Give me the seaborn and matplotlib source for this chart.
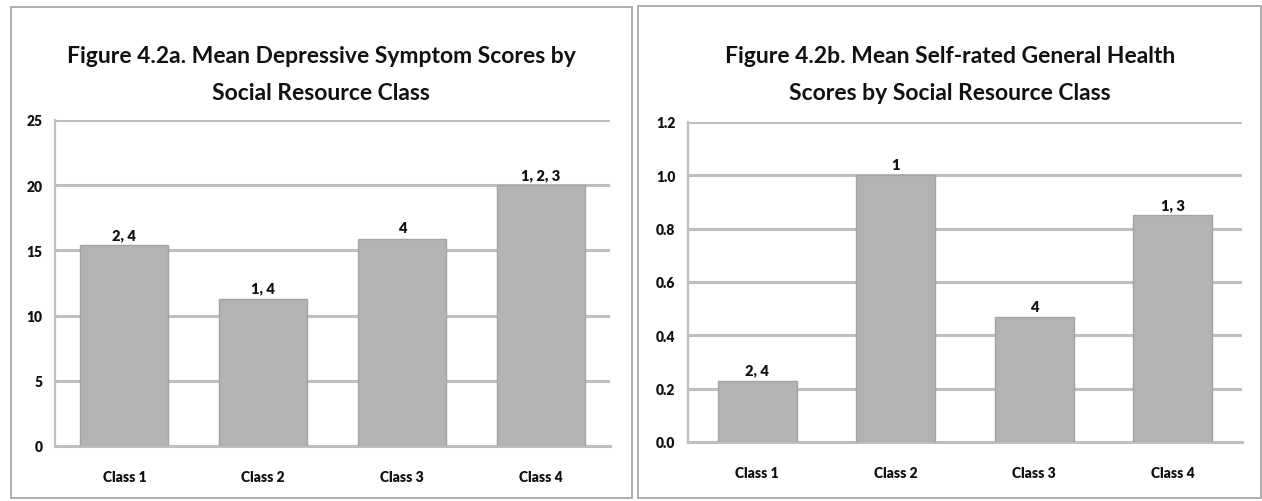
import matplotlib
matplotlib.use("Agg")
import matplotlib.pyplot as plt
from matplotlib.patches import Rectangle
import seaborn as sns

# Data
classes = ["Class 1", "Class 2", "Class 3", "Class 4"]
depressive_means = [15.4, 11.3, 15.9, 20.0]
depressive_sig = ["2, 4", "1, 4", "4", "1, 2, 3"]
health_means = [0.23, 1.0, 0.47, 0.85]
health_sig = ["2, 4", "1", "4", "1, 3"]
depressive_ticks = [0, 5, 10, 15, 20, 25]
health_ticks = [0.0, 0.2, 0.4, 0.6, 0.8, 1.0, 1.2]

title_a = "Figure 4.2a. Mean Depressive Symptom Scores by\nSocial Resource Class"
title_b = "Figure 4.2b. Mean Self-rated General Health\nScores by Social Resource Class"

sns.set_theme(style="white")
FONT = ["Lato", "DejaVu Sans"]
plt.rcParams["font.family"] = FONT

W, H = 1262, 502
fig = plt.figure(figsize=(W / 100, H / 100), dpi=100)
fig.patch.set_facecolor("white")

BAR = "#b3b3b3"
BAR_EDGE = "#a3a3a3"
GRID = "#bfbfbf"
FRAME = "#a8a8a8"
INK = "#111111"


def px_box(x0, y0, x1, y1):
    """Convert a pixel box (top-left origin) into figure fractions."""
    return [x0 / W, 1 - y1 / H, (x1 - x0) / W, (y1 - y0) / H]


# Chart frames
for (x0, y0, x1, y1) in [(11, 8, 632, 499), (638, 7, 1261, 499)]:
    fig.patches.append(Rectangle((x0 / W, 1 - y1 / H), (x1 - x0) / W, (y1 - y0) / H,
                                 transform=fig.transFigure, fill=False,
                                 edgecolor=FRAME, linewidth=1.3, zorder=0))


def draw_panel(box, values, sig, ticks, ymax, fmt, bar_width, title, title_x):
    ax = fig.add_axes(px_box(*box))
    sns.barplot(x=classes, y=values, ax=ax, color=BAR, saturation=1,
                width=bar_width, edgecolor=BAR_EDGE, linewidth=1.0, zorder=3)
    ax.set_xlim(-0.5, len(classes) - 0.5)
    ax.set_ylim(0, ymax)
    ax.set_yticks(ticks)
    ax.set_yticklabels([fmt.format(t) for t in ticks])
    ax.yaxis.grid(True, color=GRID, linewidth=2.2, zorder=0)
    ax.set_axisbelow(True)
    for s in ["top", "right"]:
        ax.spines[s].set_visible(False)
    ax.spines["left"].set_color(GRID)
    ax.spines["left"].set_linewidth(1.6)
    ax.spines["bottom"].set_color(GRID)
    ax.spines["bottom"].set_linewidth(2.2)
    ax.tick_params(axis="y", length=0, pad=9, labelsize=10)
    ax.tick_params(axis="x", length=0, pad=17, labelsize=10)
    for lab in ax.get_xticklabels() + ax.get_yticklabels():
        lab.set_fontweight("heavy")
        lab.set_color(INK)
    ax.set_xlabel("")
    ax.set_ylabel("")
    ax.bar_label(ax.containers[0], labels=sig, padding=3, fontsize=10.5,
                 fontweight="heavy", color=INK)
    fig.text(title_x / W, 1 - 75 / H, title, ha="center", va="center",
             fontsize=16.5, fontweight="bold", color=INK, linespacing=1.95)
    return ax


draw_panel((55, 121, 610, 447), depressive_means, depressive_sig, depressive_ticks,
           25, "{:.0f}", 0.634, title_a, 321)
draw_panel((688, 123, 1242, 443), health_means, health_sig, health_ticks,
           1.2, "{:.1f}", 0.57, title_b, 950)

fig.savefig("out.png", dpi=100, facecolor="white")
